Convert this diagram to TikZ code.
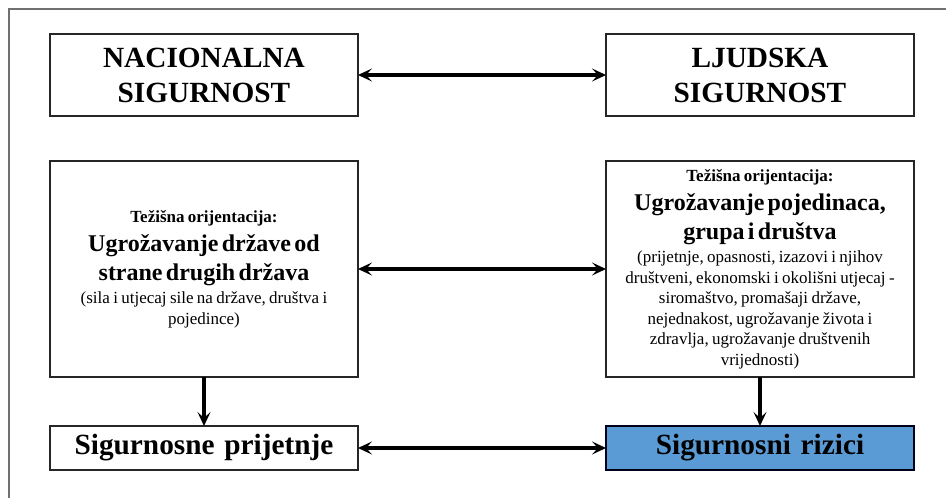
\documentclass[tikz,border=0pt]{standalone}
\usepackage{fontspec}
\IfFontExistsTF{LiberationSerif-Regular.ttf}
  {\setmainfont{LiberationSerif}[Extension=.ttf, UprightFont=*-Regular,
     BoldFont=*-Bold, ItalicFont=*-Italic, BoldItalicFont=*-BoldItalic]}
  {\setmainfont{Liberation Serif}}
\usetikzlibrary{arrows.meta}
\definecolor{riskblue}{HTML}{5B9BD5}
\definecolor{framegray}{HTML}{707070}
\newcommand{\titlesize}{\fontsize{29.3}{35}\selectfont\bfseries}
\newcommand{\headsize}{\fontsize{24}{29}\selectfont\bfseries}
\newcommand{\labelsize}{\fontsize{17}{20}\selectfont\bfseries}
\newcommand{\notesize}{\fontsize{17}{20.5}\selectfont\mdseries}
\begin{document}
\begin{tikzpicture}[x=1pt,y=-1pt,
  box/.style={draw=black!85, line width=1.3pt, fill=white, anchor=north west,
    minimum width=308pt, inner sep=4pt, outer sep=0pt,
    text width=298pt, align=center},
  tip/.tip={Stealth[length=14pt,width=13pt,inset=6pt]},
  link/.style={line width=3.2pt, tip-tip},
  flow/.style={line width=3.2pt, -tip}]

\useasboundingbox (0,0) rectangle (946,498);

% open frame along the top and left edges
\draw[framegray, line width=1.5pt] (9,498) -- (9,9) -- (946,9);

% top row
\node[box, minimum height=82pt, font=\titlesize] (nat) at (50,34)
  {NACIONALNA\\SIGURNOST};
\node[box, minimum height=82pt, font=\titlesize] (hum) at (606,34)
  {LJUDSKA\\SIGURNOST};

% middle row
\node[box, minimum height=216pt] (natfocus) at (50,161)
  {\labelsize Težišna orijentacija:\par
   \headsize Ugrožavanje države od\\strane drugih država\par
   \vspace{3pt}\notesize (sila i utjecaj sile na države, društva i\\pojedince)\par};
\node[box, minimum height=216pt] (humfocus) at (606,161)
  {\labelsize Težišna orijentacija:\par
   \headsize Ugrožavanje pojedinaca,\\grupa i društva\par
   \vspace{3pt}\notesize (prijetnje, opasnosti, izazovi i njihov\\
   društveni, ekonomski i okolišni utjecaj -\\
   siromaštvo, promašaji države,\\
   nejednakost, ugrožavanje života i\\
   zdravlja, ugrožavanje društvenih\\
   vrijednosti)\par};

% bottom row
\node[box, minimum height=44pt, font=\titlesize] (threat) at (50,426)
  {Sigurnosne prijetnje};
\node[box, minimum height=44pt, font=\titlesize, fill=riskblue,
  draw=black!90!blue, line width=1.6pt] (risk) at (606,426)
  {Sigurnosni rizici};

% connectors
\draw[link] (nat.east) -- (hum.west);
\draw[link] (natfocus.east) -- (humfocus.west);
\draw[link] (threat.east) -- (risk.west);
\draw[flow] (natfocus.south) -- (threat.north);
\draw[flow] (humfocus.south) -- (risk.north);
\end{tikzpicture}
\end{document}
